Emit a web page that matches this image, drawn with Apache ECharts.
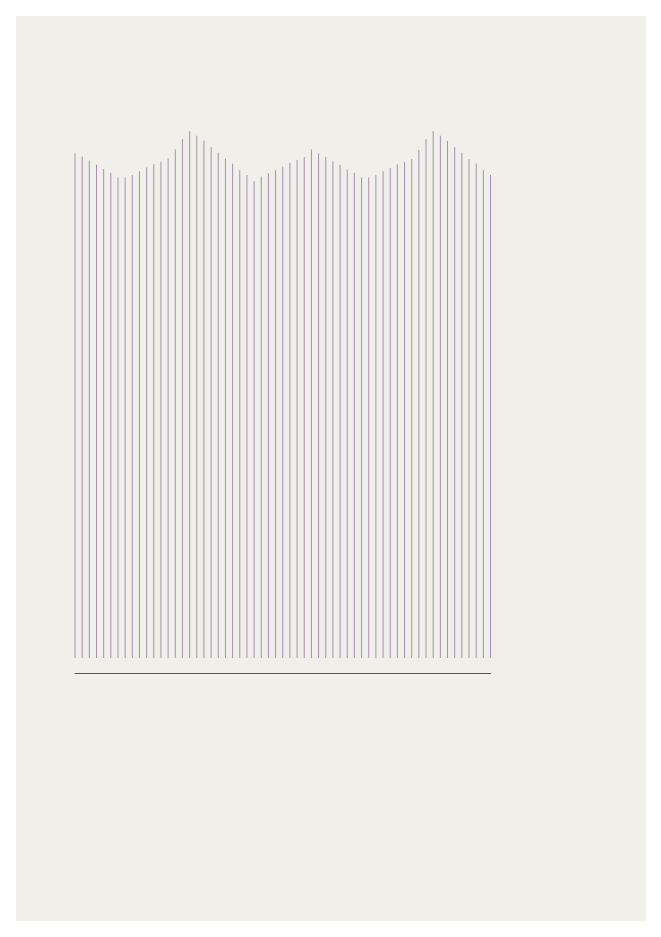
<!DOCTYPE html>
<html>
<head>
<meta charset="utf-8">
<script src="https://cdn.jsdelivr.net/npm/echarts@6/dist/echarts.min.js"></script>
<style>
  html, body { margin: 0; padding: 0; background: #ffffff; }
  #chart { position: absolute; left: 16px; top: 16px; width: 630px; height: 905px; }
</style>
</head>
<body>
<div id="chart"></div>
<script>
// one value per vertical stroke (0..100 scale)
const values = [
  95.6, 95.0, 94.2, 93.4, 92.6, 91.9, 91.0, 91.0, 91.5, 92.2,
  92.9, 93.5, 94.0, 94.6, 96.3, 98.3, 99.8, 98.9, 98.0, 96.8,
  95.7, 94.6, 93.6, 92.4, 91.5, 90.3, 91.2, 91.8, 92.4, 93.1,
  93.8, 94.3, 94.9, 96.3, 95.6, 94.9, 94.1, 93.4, 92.5, 91.9,
  91.0, 91.0, 91.5, 92.2, 92.8, 93.5, 93.9, 94.5, 96.2, 98.3,
  99.8, 98.9, 97.9, 96.8, 95.7, 94.5, 93.6, 92.4, 91.5
];
const categories = values.map((_, i) => String(i + 1));

const chart = echarts.init(document.querySelector("#chart"));
chart.setOption({
  backgroundColor: "#f0efea",
  animation: false,
  grid: { left: 59, right: 155.5, top: 114, bottom: 263 },
  xAxis: {
    type: "category",
    data: categories,
    boundaryGap: false,
    offset: 15,
    axisLine: { onZero: false, lineStyle: { color: "#1a62b0", width: 1 } },
    axisTick: { show: false },
    axisLabel: { show: false },
    splitLine: { show: false }
  },
  yAxis: {
    type: "value",
    min: 0,
    max: 100,
    show: false
  },
  series: [{
    type: "bar",
    data: values,
    barWidth: 1,
    itemStyle: { color: "#a68fb2" }
  }]
});
</script>
</body>
</html>
